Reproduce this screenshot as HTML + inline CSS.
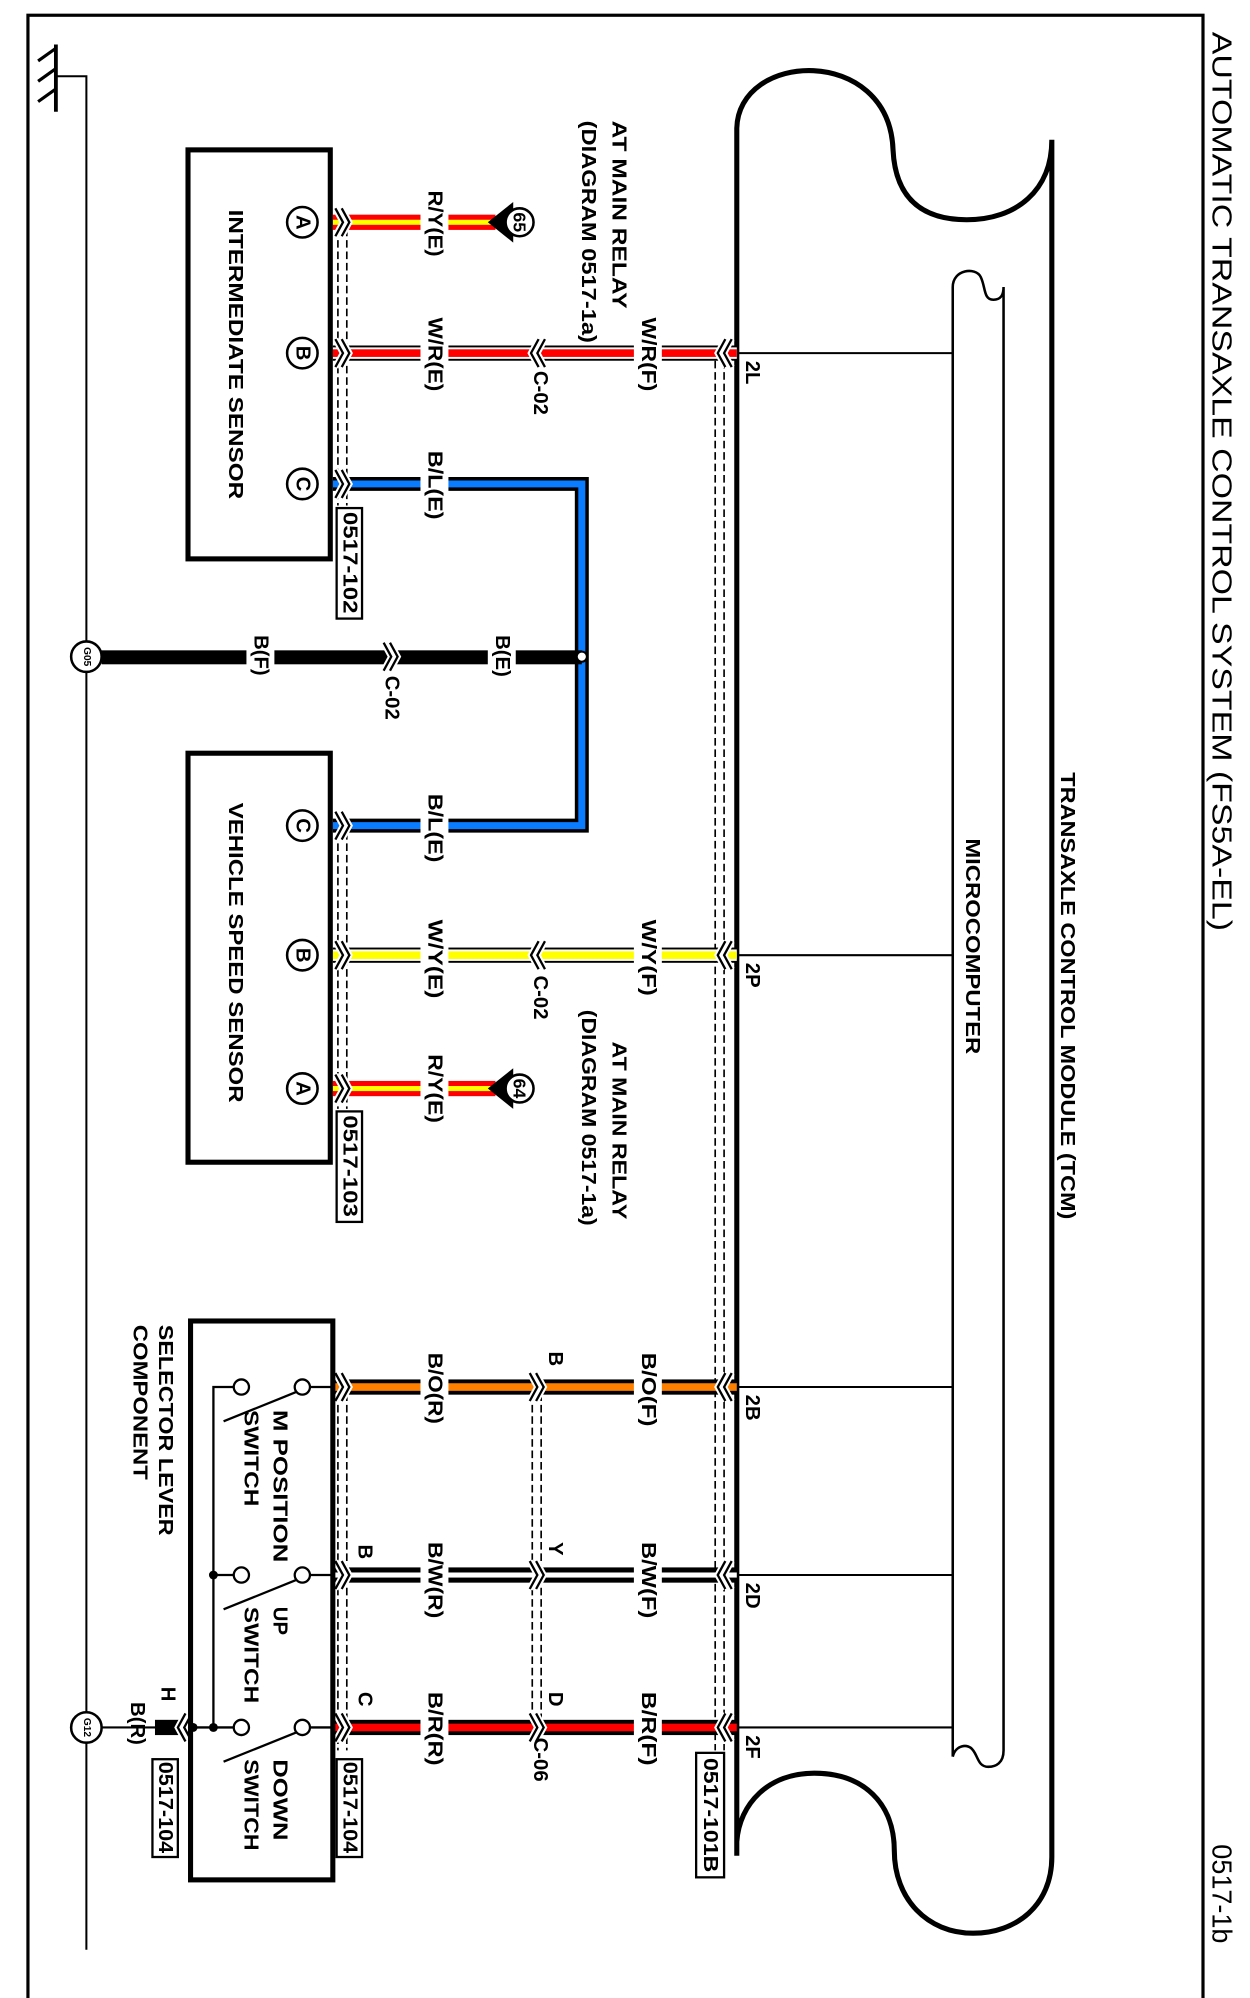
<!DOCTYPE html>
<html><head><meta charset="utf-8"><style>
html,body{margin:0;padding:0;background:#fff;}
svg{display:block;}
text{font-family:"Liberation Sans",Arial,sans-serif;fill:#000;}
</style></head><body>
<svg width="1250" height="1998" viewBox="0 0 984 1573" preserveAspectRatio="none" xmlns="http://www.w3.org/2000/svg">
<rect x="0" y="0" width="984" height="1573" fill="#fff"/>
<rect x="22" y="12" width="925" height="1571" fill="none" stroke="#000" stroke-width="2.5"/>

<polyline points="44,60 68,60 68,1535" fill="none" stroke="#000" stroke-width="1.6"/>
<line x1="44" y1="35" x2="44" y2="88" stroke="#000" stroke-width="3"/>
<line x1="30" y1="48" x2="44" y2="38" stroke="#000" stroke-width="2.5"/>
<line x1="30" y1="64" x2="44" y2="54" stroke="#000" stroke-width="2.5"/>
<line x1="30" y1="80" x2="44" y2="70" stroke="#000" stroke-width="2.5"/>

<path d="M580,1461 L580,102 C580,40 700,35 703,118 C705,160 730,173 761,173 C800,173 828,150 828,110 L828,1462 C828,1500 800,1522 766,1522 C730,1522 704,1495 704,1457 C704,1420 680,1396 641,1396 C605,1396 582,1420 580,1450" fill="none" stroke="#000" stroke-width="4"/>
<path d="M750,1383 L750,226 C750,212 768,210 772,218 C776,226 774,236 782,236 C788,236 790,232 790,226 L790,1378 C790,1388 784,1391 778,1391 C770,1391 770,1383 766,1378 C762,1372 752,1374 750,1383" fill="none" stroke="#000" stroke-width="2"/>
<g stroke="#000" stroke-width="1.6">
<line x1="580" y1="278" x2="750" y2="278"/>
<line x1="580" y1="752" x2="750" y2="752"/>
<line x1="580" y1="1092" x2="750" y2="1092"/>
<line x1="580" y1="1240" x2="750" y2="1240"/>
<line x1="580" y1="1360" x2="750" y2="1360"/>
</g>

<g stroke="#000" stroke-width="1.3" stroke-dasharray="6,3" fill="none">
<line x1="266" y1="180" x2="266" y2="398"/><line x1="273" y1="180" x2="273" y2="398"/>
<line x1="266" y1="655" x2="266" y2="873"/><line x1="273" y1="655" x2="273" y2="873"/>
<line x1="563" y1="284" x2="563" y2="1378"/><line x1="570" y1="284" x2="570" y2="1378"/>
<line x1="266" y1="1097" x2="266" y2="1378"/><line x1="273" y1="1097" x2="273" y2="1378"/>
<line x1="419" y1="1097" x2="419" y2="1355"/><line x1="426" y1="1097" x2="426" y2="1355"/>
</g>

<g>
<rect x="262" y="169" width="128" height="12" fill="#f00"/><rect x="262" y="173" width="128" height="4" fill="#ff0"/>
<rect x="262" y="272" width="318" height="12" fill="#000"/><rect x="262" y="273.5" width="318" height="9" fill="#fff"/><rect x="262" y="275" width="318" height="6" fill="#f00"/>
<polyline points="262,381 458,381 458,650 262,650" fill="none" stroke="#000" stroke-width="11"/>
<polyline points="262,381 458,381 458,650 262,650" fill="none" stroke="#0a7cff" stroke-width="5.5"/>
<rect x="80" y="512" width="378" height="11" fill="#000"/>
<rect x="262" y="746" width="318" height="12" fill="#000"/><rect x="262" y="747.5" width="318" height="9" fill="#fff"/><rect x="262" y="749" width="318" height="6" fill="#ff0"/>
<rect x="262" y="851" width="128" height="12" fill="#f00"/><rect x="262" y="855" width="128" height="4" fill="#ff0"/>
<rect x="262" y="1086" width="318" height="12" fill="#000"/><rect x="262" y="1089" width="318" height="6" fill="#ff8000"/>
<rect x="262" y="1234" width="318" height="12" fill="#000"/><rect x="262" y="1238" width="318" height="4" fill="#fff"/>
<rect x="262" y="1354" width="318" height="12" fill="#000"/><rect x="262" y="1357" width="318" height="6" fill="#f00"/>
<line x1="80" y1="1360" x2="124" y2="1360" stroke="#000" stroke-width="1.6"/>
<rect x="122" y="1354" width="28" height="12" fill="#000"/>
</g>
<circle cx="458" cy="517" r="4" fill="#fff" stroke="#000" stroke-width="1.6"/>

<polygon points="384,175 404,159 404,191" fill="#000"/>
<polygon points="384,857 404,841 404,873" fill="#000"/>
<circle cx="409" cy="175" r="11" fill="#fff" stroke="#000" stroke-width="2"/>
<circle cx="409" cy="857" r="11" fill="#fff" stroke="#000" stroke-width="2"/>
<text transform="translate(409,175) rotate(90)" font-size="14" text-anchor="middle" dominant-baseline="central" font-weight="bold">65</text>
<text transform="translate(409,857) rotate(90)" font-size="14" text-anchor="middle" dominant-baseline="central" font-weight="bold">64</text>

<circle cx="68" cy="517" r="12" fill="#fff" stroke="#000" stroke-width="2"/>
<circle cx="68" cy="1360" r="12" fill="#fff" stroke="#000" stroke-width="2"/>
<text transform="translate(68,517) rotate(90)" font-size="8" text-anchor="middle" dominant-baseline="central" font-weight="bold">G05</text>
<text transform="translate(68,1360) rotate(90)" font-size="8" text-anchor="middle" dominant-baseline="central" font-weight="bold">G12</text>

<g stroke="#fff" stroke-width="5" fill="none">
<path d="M264,164 L270,175 L264,186 M269,164 L275,175 L269,186"/>
<path d="M264,267 L270,278 L264,289 M269,267 L275,278 L269,289"/>
<path d="M264,370 L270,381 L264,392 M269,370 L275,381 L269,392"/>
<path d="M264,639 L270,650 L264,661 M269,639 L275,650 L269,661"/>
<path d="M264,741 L270,752 L264,763 M269,741 L275,752 L269,763"/>
<path d="M264,846 L270,857 L264,868 M269,846 L275,857 L269,868"/>
<path d="M264,1081 L270,1092 L264,1103 M269,1081 L275,1092 L269,1103"/>
<path d="M264,1229 L270,1240 L264,1251 M269,1229 L275,1240 L269,1251"/>
<path d="M264,1349 L270,1360 L264,1371 M269,1349 L275,1360 L269,1371"/>
<path d="M571,267 L565,278 L571,289 M576,267 L570,278 L576,289"/>
<path d="M571,741 L565,752 L571,763 M576,741 L570,752 L576,763"/>
<path d="M571,1081 L565,1092 L571,1103 M576,1081 L570,1092 L576,1103"/>
<path d="M571,1229 L565,1240 L571,1251 M576,1229 L570,1240 L576,1251"/>
<path d="M571,1349 L565,1360 L571,1371 M576,1349 L570,1360 L576,1371"/>
<path d="M424,267 L418,278 L424,289 M429,267 L423,278 L429,289"/>
<path d="M424,741 L418,752 L424,763 M429,741 L423,752 L429,763"/>
<path d="M417,1081 L423,1092 L417,1103 M422,1081 L428,1092 L422,1103"/>
<path d="M417,1229 L423,1240 L417,1251 M422,1229 L428,1240 L422,1251"/>
<path d="M417,1349 L423,1360 L417,1371 M422,1349 L428,1360 L422,1371"/>
<path d="M302,506 L308,517 L302,528 M307,506 L313,517 L307,528"/>
<path d="M146,1349 L140,1360 L146,1371 M151,1349 L145,1360 L151,1371"/>
</g>
<g stroke="#000" stroke-width="1.8" fill="none">
<path d="M264,164 L270,175 L264,186 M269,164 L275,175 L269,186"/>
<path d="M264,267 L270,278 L264,289 M269,267 L275,278 L269,289"/>
<path d="M264,370 L270,381 L264,392 M269,370 L275,381 L269,392"/>
<path d="M264,639 L270,650 L264,661 M269,639 L275,650 L269,661"/>
<path d="M264,741 L270,752 L264,763 M269,741 L275,752 L269,763"/>
<path d="M264,846 L270,857 L264,868 M269,846 L275,857 L269,868"/>
<path d="M264,1081 L270,1092 L264,1103 M269,1081 L275,1092 L269,1103"/>
<path d="M264,1229 L270,1240 L264,1251 M269,1229 L275,1240 L269,1251"/>
<path d="M264,1349 L270,1360 L264,1371 M269,1349 L275,1360 L269,1371"/>
<path d="M571,267 L565,278 L571,289 M576,267 L570,278 L576,289"/>
<path d="M571,741 L565,752 L571,763 M576,741 L570,752 L576,763"/>
<path d="M571,1081 L565,1092 L571,1103 M576,1081 L570,1092 L576,1103"/>
<path d="M571,1229 L565,1240 L571,1251 M576,1229 L570,1240 L576,1251"/>
<path d="M571,1349 L565,1360 L571,1371 M576,1349 L570,1360 L576,1371"/>
<path d="M424,267 L418,278 L424,289 M429,267 L423,278 L429,289"/>
<path d="M424,741 L418,752 L424,763 M429,741 L423,752 L429,763"/>
<path d="M417,1081 L423,1092 L417,1103 M422,1081 L428,1092 L422,1103"/>
<path d="M417,1229 L423,1240 L417,1251 M422,1229 L428,1240 L422,1251"/>
<path d="M417,1349 L423,1360 L417,1371 M422,1349 L428,1360 L422,1371"/>
<path d="M302,506 L308,517 L302,528 M307,506 L313,517 L307,528"/>
<path d="M146,1349 L140,1360 L146,1371 M151,1349 L145,1360 L151,1371"/>
</g>

<rect x="148" y="118" width="112" height="322" fill="none" stroke="#000" stroke-width="4"/>
<rect x="148" y="593" width="112" height="322" fill="none" stroke="#000" stroke-width="4"/>
<rect x="150" y="1040" width="112" height="440" fill="none" stroke="#000" stroke-width="4"/>

<g fill="#fff" stroke="#000" stroke-width="2">
<circle cx="238" cy="175" r="12"/><circle cx="238" cy="278" r="12"/><circle cx="238" cy="381" r="12"/>
<circle cx="238" cy="650" r="12"/><circle cx="238" cy="752" r="12"/><circle cx="238" cy="857" r="12"/>
</g>
<g font-size="16" font-weight="bold" text-anchor="middle" dominant-baseline="central">
<text transform="translate(238,175) rotate(90)">A</text>
<text transform="translate(238,278) rotate(90)">B</text>
<text transform="translate(238,381) rotate(90)">C</text>
<text transform="translate(238,650) rotate(90)">C</text>
<text transform="translate(238,752) rotate(90)">B</text>
<text transform="translate(238,857) rotate(90)">A</text>
</g>

<g stroke="#000" stroke-width="1.8" fill="none">
<line x1="244" y1="1092" x2="262" y2="1092"/>
<line x1="244" y1="1240" x2="262" y2="1240"/>
<line x1="244" y1="1360" x2="262" y2="1360"/>
<polyline points="184,1092 168,1092 168,1360 184,1360"/>
<line x1="168" y1="1240" x2="184" y2="1240"/>
<line x1="150" y1="1360" x2="168" y2="1360"/>
<line x1="233" y1="1096" x2="176" y2="1119"/>
<line x1="233" y1="1244" x2="176" y2="1267"/>
<line x1="233" y1="1364" x2="176" y2="1387"/>
</g>
<g fill="#fff" stroke="#000" stroke-width="1.8">
<circle cx="238" cy="1092" r="6"/><circle cx="190" cy="1092" r="6"/>
<circle cx="238" cy="1240" r="6"/><circle cx="190" cy="1240" r="6"/>
<circle cx="238" cy="1360" r="6"/><circle cx="190" cy="1360" r="6"/>
</g>
<circle cx="168" cy="1240" r="3.5" fill="#000"/><circle cx="168" cy="1360" r="3.5" fill="#000"/><circle cx="152" cy="1360" r="3.5" fill="#000"/>

<g fill="#fff" stroke="#000" stroke-width="1.8">
<rect x="265" y="400" width="20" height="87"/>
<rect x="265" y="875" width="20" height="87"/>
<rect x="265" y="1385" width="20" height="77"/>
<rect x="120" y="1385" width="20" height="77"/>
<rect x="548" y="1380" width="22" height="98"/>
</g>
<g font-size="16" font-weight="bold" text-anchor="middle" dominant-baseline="central">
<text transform="translate(275,443) rotate(90)" textLength="80" lengthAdjust="spacingAndGlyphs">0517-102</text>
<text transform="translate(275,918) rotate(90)" textLength="80" lengthAdjust="spacingAndGlyphs">0517-103</text>
<text transform="translate(275,1423) rotate(90)" textLength="72" lengthAdjust="spacingAndGlyphs">0517-104</text>
<text transform="translate(130,1423) rotate(90)" textLength="72" lengthAdjust="spacingAndGlyphs">0517-104</text>
<text transform="translate(559,1429) rotate(90)" textLength="90" lengthAdjust="spacingAndGlyphs">0517-101B</text>
</g>

<g fill="#fff">
<rect x="331" y="148" width="22" height="56"/><rect x="331" y="248" width="22" height="62"/>
<rect x="331" y="352" width="22" height="60"/><rect x="331" y="622" width="22" height="60"/>
<rect x="331" y="722" width="22" height="68"/><rect x="331" y="828" width="22" height="58"/>
<rect x="331" y="1063" width="22" height="60"/><rect x="331" y="1212" width="22" height="64"/>
<rect x="331" y="1330" width="22" height="62"/>
<rect x="499" y="248" width="22" height="62"/><rect x="499" y="722" width="22" height="66"/>
<rect x="499" y="1063" width="22" height="62"/><rect x="499" y="1212" width="22" height="64"/>
<rect x="499" y="1330" width="22" height="62"/>
<rect x="384" y="498" width="22" height="40"/><rect x="194" y="498" width="22" height="40"/>
</g>
<g font-size="16" font-weight="bold" dominant-baseline="central">
<text transform="translate(342,150) rotate(90)" textLength="52" lengthAdjust="spacingAndGlyphs">R/Y(E)</text>
<text transform="translate(342,250) rotate(90)" textLength="58" lengthAdjust="spacingAndGlyphs">W/R(E)</text>
<text transform="translate(342,355) rotate(90)" textLength="54" lengthAdjust="spacingAndGlyphs">B/L(E)</text>
<text transform="translate(342,625) rotate(90)" textLength="54" lengthAdjust="spacingAndGlyphs">B/L(E)</text>
<text transform="translate(342,724) rotate(90)" textLength="62" lengthAdjust="spacingAndGlyphs">W/Y(E)</text>
<text transform="translate(342,830) rotate(90)" textLength="54" lengthAdjust="spacingAndGlyphs">R/Y(E)</text>
<text transform="translate(342,1065) rotate(90)" textLength="56" lengthAdjust="spacingAndGlyphs">B/O(R)</text>
<text transform="translate(342,1214) rotate(90)" textLength="60" lengthAdjust="spacingAndGlyphs">B/W(R)</text>
<text transform="translate(342,1332) rotate(90)" textLength="58" lengthAdjust="spacingAndGlyphs">B/R(R)</text>
<text transform="translate(510,250) rotate(90)" textLength="58" lengthAdjust="spacingAndGlyphs">W/R(F)</text>
<text transform="translate(510,724) rotate(90)" textLength="60" lengthAdjust="spacingAndGlyphs">W/Y(F)</text>
<text transform="translate(510,1065) rotate(90)" textLength="58" lengthAdjust="spacingAndGlyphs">B/O(F)</text>
<text transform="translate(510,1214) rotate(90)" textLength="60" lengthAdjust="spacingAndGlyphs">B/W(F)</text>
<text transform="translate(510,1332) rotate(90)" textLength="58" lengthAdjust="spacingAndGlyphs">B/R(F)</text>
<text transform="translate(395,500) rotate(90)">B(E)</text>
<text transform="translate(205,500) rotate(90)">B(F)</text>
<text transform="translate(308,532) rotate(90)">C-02</text>
<text transform="translate(425,292) rotate(90)">C-02</text>
<text transform="translate(425,768) rotate(90)">C-02</text>
<text transform="translate(425,1368) rotate(90)">C-06</text>
<text transform="translate(437,1064) rotate(90)">B</text>
<text transform="translate(437,1214) rotate(90)">Y</text>
<text transform="translate(437,1332) rotate(90)">D</text>
<text transform="translate(287,1216) rotate(90)">B</text>
<text transform="translate(287,1332) rotate(90)">C</text>
<text transform="translate(132,1328) rotate(90)">H</text>
<text transform="translate(108,1340) rotate(90)">B(R)</text>
<text transform="translate(592,284) rotate(90)">2L</text>
<text transform="translate(592,758) rotate(90)">2P</text>
<text transform="translate(592,1098) rotate(90)">2B</text>
<text transform="translate(592,1246) rotate(90)">2D</text>
<text transform="translate(592,1366) rotate(90)">2F</text>
<text transform="translate(487,95) rotate(90)" textLength="148" lengthAdjust="spacingAndGlyphs">AT MAIN RELAY</text>
<text transform="translate(463,95) rotate(90)" textLength="175" lengthAdjust="spacingAndGlyphs">(DIAGRAM 0517-1a)</text>
<text transform="translate(487,820) rotate(90)" textLength="140" lengthAdjust="spacingAndGlyphs">AT MAIN RELAY</text>
<text transform="translate(463,795) rotate(90)" textLength="170" lengthAdjust="spacingAndGlyphs">(DIAGRAM 0517-1a)</text>
<text transform="translate(185,165) rotate(90)" textLength="228" lengthAdjust="spacingAndGlyphs">INTERMEDIATE SENSOR</text>
<text transform="translate(185,632) rotate(90)" textLength="236" lengthAdjust="spacingAndGlyphs">VEHICLE SPEED SENSOR</text>
<text transform="translate(130,1043) rotate(90)" textLength="166" lengthAdjust="spacingAndGlyphs">SELECTOR LEVER</text>
<text transform="translate(110,1043) rotate(90)" textLength="122" lengthAdjust="spacingAndGlyphs">COMPONENT</text>
<text transform="translate(220,1110) rotate(90)" textLength="120" lengthAdjust="spacingAndGlyphs">M POSITION</text>
<text transform="translate(197,1110) rotate(90)" textLength="76" lengthAdjust="spacingAndGlyphs">SWITCH</text>
<text transform="translate(220,1265) rotate(90)">UP</text>
<text transform="translate(197,1265) rotate(90)" textLength="76" lengthAdjust="spacingAndGlyphs">SWITCH</text>
<text transform="translate(220,1385) rotate(90)" textLength="64" lengthAdjust="spacingAndGlyphs">DOWN</text>
<text transform="translate(197,1385) rotate(90)" textLength="72" lengthAdjust="spacingAndGlyphs">SWITCH</text>
<text transform="translate(765,660) rotate(90)" textLength="170" lengthAdjust="spacingAndGlyphs">MICROCOMPUTER</text>
<text transform="translate(840,608) rotate(90)" textLength="352" lengthAdjust="spacingAndGlyphs">TRANSAXLE CONTROL MODULE (TCM)</text>
</g>
<g font-size="22" dominant-baseline="central">
<text transform="translate(962,25) rotate(90)" textLength="708" lengthAdjust="spacingAndGlyphs">AUTOMATIC TRANSAXLE CONTROL SYSTEM (FS5A-EL)</text>
<text transform="translate(962,1452) rotate(90)" textLength="78" lengthAdjust="spacingAndGlyphs">0517-1b</text>
</g>
</svg>
</body></html>
